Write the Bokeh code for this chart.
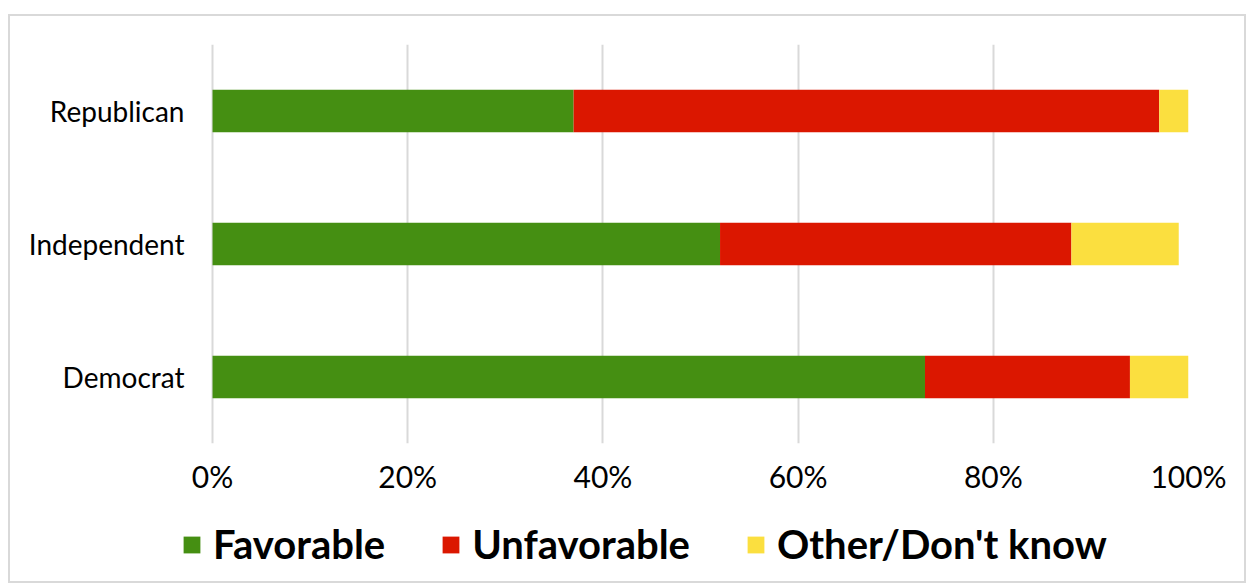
from bokeh.plotting import figure
from bokeh.layouts import column
from bokeh.models import ColumnDataSource, FactorRange, Range1d, Legend, FixedTicker, CustomJSTickFormatter
from bokeh.embed import file_html
from bokeh.resources import INLINE

parties = ["Democrat", "Independent", "Republican"]
favorable = [73, 52, 37]
unfavorable = [21, 36, 60]
other = [6, 11, 3]
series = ["Favorable", "Unfavorable", "Other/Don't know"]
colors = ["#458F12", "#DB1700", "#FBDF3F"]
ticks = [0, 20, 40, 60, 80, 100]

source = ColumnDataSource(dict(party=parties, fav=favorable, unfav=unfavorable, oth=other))

x_start = -3.18  # leaves room left of 0% so the legend row can start there

p = figure(width=1234, height=490, y_range=FactorRange(factors=parties, range_padding=0),
           x_range=Range1d(x_start, 100), output_backend="svg", toolbar_location=None,
           min_border_left=171, min_border_right=56, min_border_top=28, min_border_bottom=63)

p.hbar_stack(["fav", "unfav", "oth"], y="party", height=0.32, color=colors,
             line_color=None, source=source)

p.outline_line_color = None
p.ygrid.grid_line_color = None
p.xgrid.grid_line_color = "#d9d9d9"
p.xgrid.grid_line_width = 2
p.xaxis.ticker = FixedTicker(ticks=ticks)
p.xaxis.formatter = CustomJSTickFormatter(code="return tick + '%';")
for ax in (p.xaxis[0], p.yaxis[0]):
    ax.axis_line_color = None
    ax.major_tick_line_color = None
    ax.minor_tick_line_color = None
    ax.major_label_text_font = "Lato"
    ax.major_label_text_color = "#000000"
p.xaxis.major_label_text_font_size = "30px"
p.xaxis.major_label_standoff = 8
p.yaxis.major_label_text_font_size = "28px"
p.yaxis.major_label_standoff = -9

# legend row: a second figure whose bars have zero height, so only its legend shows
lp = figure(width=1234, height=75, y_range=FactorRange(factors=parties),
            x_range=Range1d(x_start, 100), output_backend="svg", toolbar_location=None,
            min_border_left=171, min_border_right=56, min_border_top=0, min_border_bottom=0)
lp.axis.visible = False
lp.grid.visible = False
lp.outline_line_color = None
lrs = lp.hbar_stack(["fav", "unfav", "oth"], y="party", height=0, color=colors,
                    line_color=None, source=source)
legend = Legend(items=[(s, [r]) for s, r in zip(series, lrs)], orientation="horizontal",
                location=(0, 13), glyph_width=21, glyph_height=21, label_standoff=11,
                spacing=55, padding=0, margin=0, border_line_color=None,
                background_fill_alpha=0, label_text_font="Lato", label_text_font_style="bold",
                label_text_font_size="40px", label_text_color="#000000")
lp.add_layout(legend, "center")

layout = column(p, lp, spacing=0)
layout.styles = {"margin-top": "14px", "margin-left": "8px", "border": "2px solid #d9d9d9"}

open("out.html", "w").write(file_html(layout, INLINE))
